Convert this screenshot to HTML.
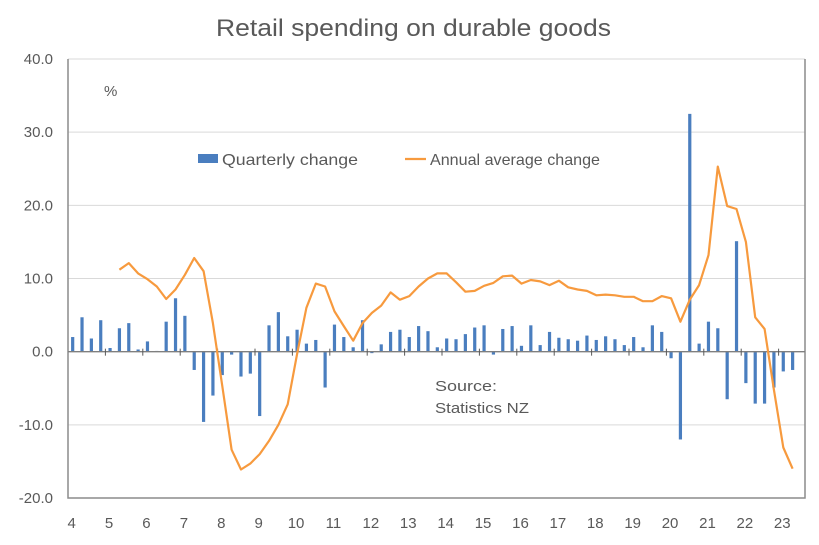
<!DOCTYPE html>
<html><head><meta charset="utf-8"><style>
body{margin:0;background:#fff;font-family:"Liberation Sans",Arial,sans-serif}
svg text{font-family:"Liberation Sans",Arial,sans-serif;fill:#595959}
</style></head><body>
<svg id="chart" width="819" height="540" xmlns="http://www.w3.org/2000/svg">
<text x="216" y="36" font-size="24" textLength="395" lengthAdjust="spacingAndGlyphs">Retail spending on durable goods</text>
<g id="grid"></g>
<g id="yticks"></g>
<g id="bars"></g>
<g id="axis"></g>
<g id="xlabels"></g>
<path id="line" fill="none" stroke="#f79a3e" stroke-width="2.2" stroke-linejoin="round"/>
<text x="104" y="96" font-size="15" fill="#404040">%</text>
<g>
<rect x="198" y="154" width="20" height="9" fill="#4a7ebf"/>
<text x="222" y="165" font-size="16" textLength="136" lengthAdjust="spacingAndGlyphs">Quarterly change</text>
<line x1="405" y1="159" x2="426" y2="159" stroke="#f79a3e" stroke-width="2.2"/>
<text x="430" y="165" font-size="16" textLength="170" lengthAdjust="spacingAndGlyphs">Annual average change</text>
</g>
<text x="435" y="391" font-size="15" fill="#222" textLength="62" lengthAdjust="spacingAndGlyphs">Source:</text>
<text x="435" y="413" font-size="15" fill="#222" textLength="94" lengthAdjust="spacingAndGlyphs">Statistics NZ</text>
</svg>
<script>
const yTicks=[40,30,20,10,0,-10,-20];
const xLabels=["4","5","6","7","8","9","10","11","12","13","14","15","16","17","18","19","20","21","22","23"];
const quarterly=[2.0,4.7,1.8,4.3,0.5,3.2,3.9,0.3,1.4,0.1,4.1,7.3,4.9,-2.5,-9.6,-6.0,-3.2,-0.4,-3.4,-3.0,-8.8,3.6,5.4,2.1,3.0,1.1,1.6,-4.9,3.7,2.0,0.6,4.3,-0.2,1.0,2.7,3.0,2.0,3.5,2.8,0.6,1.8,1.7,2.4,3.3,3.6,-0.4,3.1,3.5,0.8,3.6,0.9,2.7,1.9,1.7,1.5,2.2,1.6,2.1,1.7,0.9,2.0,0.6,3.6,2.7,-0.9,-12.0,32.5,1.1,4.1,3.2,-6.5,15.1,-4.3,-7.1,-7.1,-4.9,-2.7,-2.5];
const annual=[null,null,null,null,null,11.2,12.1,10.7,9.9,8.9,7.2,8.5,10.5,12.8,11.0,3.9,-4.7,-13.4,-16.1,-15.3,-14.0,-12.2,-10.0,-7.2,-0.3,6.0,9.3,8.9,5.5,3.5,1.5,3.9,5.3,6.3,8.1,7.1,7.6,8.9,10.0,10.7,10.7,9.5,8.2,8.3,9.0,9.4,10.3,10.4,9.3,9.8,9.6,9.1,9.7,8.8,8.5,8.3,7.7,7.8,7.7,7.5,7.5,6.9,6.9,7.6,7.3,4.1,7.1,9.1,13.2,25.3,19.9,19.5,15.0,4.7,3.1,-5.2,-13.1,-16.0];

const NS="http://www.w3.org/2000/svg";
const X0=68,X1=805,CW=9.35,YT=59,YB=498;
const y=v=>YB-(v+20)/60*(YB-YT);
const xc=i=>X0+(i+0.5)*CW;
function mk(tag,attrs,parent){const e=document.createElementNS(NS,tag);for(const k in attrs)e.setAttribute(k,attrs[k]);parent.appendChild(e);return e;}
const grid=document.getElementById('grid'),yt=document.getElementById('yticks');
yTicks.forEach(t=>{
  if(t!==0&&t!==-20){const g=mk('line',{x1:X0,x2:X1,y1:y(t),y2:y(t),stroke:'#d9d9d9','stroke-width':1},grid);
  
  }
  const tx=mk('text',{x:53,y:y(t)+5,'font-size':15,'text-anchor':'end'},yt);
  tx.textContent=t.toFixed(1);
  
  
});
const frame=mk('path',{d:`M${X0},${YT}V${YB}H${X1}V${YT}`,fill:'none',stroke:'#8c8c8c','stroke-width':1.5},grid);


const bars=document.getElementById('bars');
quarterly.forEach((v,i)=>{
  const r=mk('rect',{x:xc(i)-1.6,width:3.2,y:Math.min(y(v),y(0)),height:Math.max(Math.abs(y(v)-y(0)),0.8),fill:'#4a7ebf'},bars);
  
  
});
const ax=document.getElementById('axis');
const zl=mk('line',{x1:X0,x2:X1,y1:y(0),y2:y(0),stroke:'#7f7f7f','stroke-width':1.3},ax);


const xl=document.getElementById('xlabels');
xLabels.forEach((l,k)=>{
  const tx=X0+4*(k+1)*CW;
  if(tx<X1-2){
    const tk=mk('line',{x1:tx,x2:tx,y1:y(0)-3,y2:y(0)+4,stroke:'#595959','stroke-width':1},ax);
    
    
  }
  const t=mk('text',{x:xc(4*k)-1,y:528,'font-size':15,'text-anchor':'middle'},xl);
  t.textContent=l;
  
  
});
let d='';annual.forEach((v,i)=>{if(v===null)return;d+=(d?'L':'M')+xc(i).toFixed(1)+','+y(v).toFixed(1);});
document.getElementById('line').setAttribute('d',d);
</script>
</body></html>
